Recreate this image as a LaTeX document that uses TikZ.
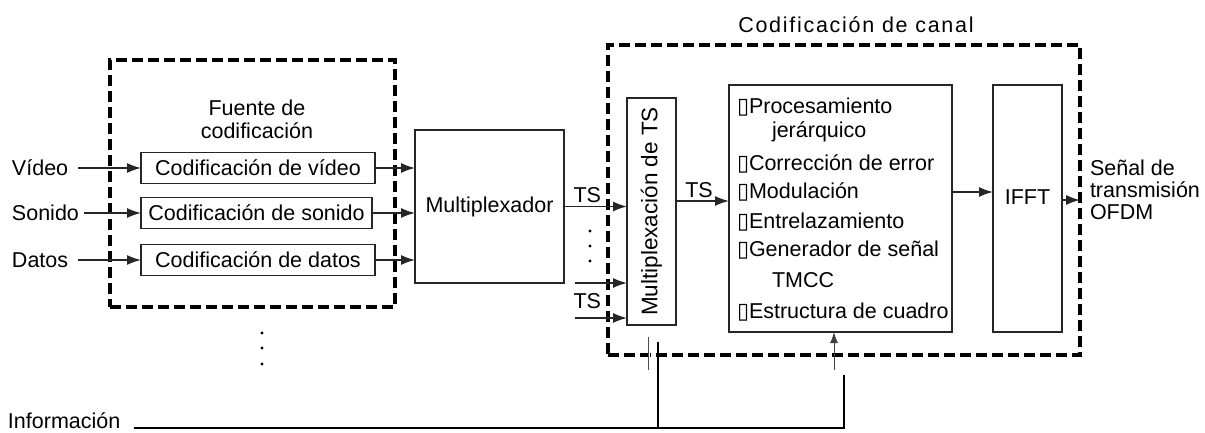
\documentclass[tikz,border=0pt]{standalone}
\usepackage{fontspec}
\setmainfont{Liberation Sans}
\newfontfamily\symfont{DejaVu Sans}
\usetikzlibrary{arrows.meta}
\newcommand\tofubox{\makebox[12pt][l]{\symfont\fontsize{22}{22}\selectfont ▯}}
\begin{document}
\begin{tikzpicture}[x=1pt,y=-1pt,
  every node/.style={font=\fontsize{21.5}{22}\selectfont, inner sep=0pt, outer sep=0pt, text=black},
  blk/.style={draw=black!85, line width=1.4pt, rectangle},
  grp/.style={draw=black, line width=3.2pt, dash pattern=on 11pt off 5pt, rectangle},
  conn/.style={draw=black!85, line width=1.4pt},
  infoln/.style={draw=black, line width=1.8pt},
  arr/.style={conn, -{Latex[length=14pt,width=10pt]}},
  thinarr/.style={draw=black!75, line width=1pt, -{Latex[length=11pt,width=8pt]}},
  hatch/.style={draw=black!70, line width=0.7pt, double=white, double distance=1pt},
  dot/.style={circle, fill=black, inner sep=0pt, minimum size=3.4pt},
  txt/.style={anchor=base west}]
\useasboundingbox (0,0) rectangle (1205,432);

% group frames
\node[grp, minimum width=285pt, minimum height=247pt] (src) at (252.5,183.5) {};
\node[grp, minimum width=472pt, minimum height=310pt] (chan) at (844,200) {};
\node[anchor=north, align=center, font=\fontsize{21.5}{23}\selectfont] (srcl) at (257,99.5) {Fuente de\\codificación};
\node[anchor=base] (chanl) at (856,32) {\addfontfeature{LetterSpace=8}Codificación de canal};

% source coding
\node[blk, minimum width=234pt, minimum height=31pt] (vid) at (258,168) {Codificación de vídeo};
\node[blk, minimum width=231pt, minimum height=31pt] (son) at (256.5,213) {Codificación de sonido};
\node[blk, minimum width=234pt, minimum height=31pt] (dat) at (258,260) {Codificación de datos};
\node[txt] (lvid) at (12,175.5) {Vídeo};
\node[txt] (lson) at (12,220.5) {Sonido};
\node[txt] (ldat) at (12,267.5) {Datos};
\draw[arr, shorten <=10pt] (lvid.east |- vid.west) -- (vid.west);
\draw[arr, shorten <=5pt] (lson.east |- son.west) -- (son.west);
\draw[arr, shorten <=10pt] (ldat.east |- dat.west) -- (dat.west);

% multiplexer
\node[blk, minimum width=149pt, minimum height=153pt] (mux) at (489.5,206.5) {Multiplexador};
\draw[arr] (vid.east) -- (vid.east -| mux.west);
\draw[arr] (son.east) -- (son.east -| mux.west);
\draw[arr] (dat.east) -- (dat.east -| mux.west);

% TS multiplexing
\node[blk, minimum width=49pt, minimum height=227pt] (tsm) at (651.5,211.5) {};
\node[rotate=90, font=\fontsize{22.5}{23}\selectfont] (tsml) at (tsm.center) {Multiplexación de TS};
\draw[arr] (mux.east) -- (mux.east -| tsm.west);
\node[anchor=base east] (ts1) at (601,202) {TS};
\coordinate (in2) at (575,283);
\coordinate (in3) at (575,318);
\draw[arr] (in2) -- (in2 -| tsm.west);
\draw[arr] (in3) -- (in3 -| tsm.west);
\node[anchor=base east] (ts2) at (601,308) {TS};
\node[dot] (d1) at (590,231) {};
\node[dot] (d2) at (590,246) {};
\node[dot] (d3) at (590,261) {};

% processing block
\node[blk, minimum width=223pt, minimum height=247pt] (proc) at (840.5,208.5) {};
\coordinate (y201) at (0,201);
\draw[arr] (tsm.east |- y201) -- (proc.west |- y201);
\node[anchor=base] (ts3) at (699,197) {TS};
\node[txt] (p1) at (737,113) {\tofubox Procesamiento};
\node[txt] (p1b) at (772,137) {jerárquico};
\node[txt] (p2) at (737,170) {\tofubox Corrección de error};
\node[txt] (p3) at (737,198) {\tofubox Modulación};
\node[txt] (p4) at (737,228) {\tofubox Entrelazamiento};
\node[txt] (p5) at (737,256) {\tofubox Generador de señal};
\node[txt] (p5b) at (772,287) {TMCC};
\node[txt] (p6) at (737,318) {\tofubox Estructura de cuadro};

% IFFT
\node[blk, minimum width=69pt, minimum height=247pt] (ifft) at (1027.5,208.5) {};
\node (ifftl) at (1027.5,197) {IFFT};
\coordinate (y192) at (0,192);
\draw[arr] (proc.east |- y192) -- (ifft.west |- y192);
\coordinate (y200) at (0,200);
\draw[arr] (ifft.east |- y200) -- (chan.east |- y200);
\node[anchor=north west, align=left] (out) at (1090,159.5) {Señal de\\transmisión\\OFDM};

% dots below source frame
\node[dot] (e1) at (262,333) {};
\node[dot] (e2) at (262,348) {};
\node[dot] (e3) at (262,364) {};

% information line
\node[txt] (info) at (8,428) {Información};
\coordinate (j1) at (658,428);
\coordinate (j2) at (844,428);
\coordinate (t1) at (658,342);
\coordinate (t2) at (844,375);
\draw[infoln] ([xshift=14pt]info.base east) -- (j2) -- (t2);
\draw[infoln] (j1) -- (t1);
\coordinate (h1) at (649,337);
\coordinate (h2) at (649,370);
\draw[hatch] (h1) -- (h2);
\coordinate (a1) at (834,370);
\draw[thinarr] (a1) -- (a1 |- proc.south);
\end{tikzpicture}
\end{document}
